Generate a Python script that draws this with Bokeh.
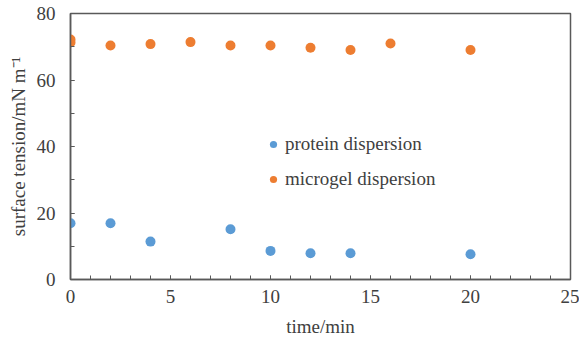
from bokeh.plotting import figure
from bokeh.models import Range1d, FixedTicker, Legend, LegendItem
from bokeh.embed import file_html
from bokeh.resources import INLINE

protein_time = [0, 2, 4, 8, 10, 12, 14, 20]
protein_tension = [16.9, 16.9, 11.4, 15.1, 8.6, 7.9, 7.9, 7.6]
microgel_time = [0, 0, 2, 4, 6, 8, 10, 12, 14, 16, 20]
microgel_tension = [72.2, 71.3, 70.4, 70.8, 71.4, 70.4, 70.4, 69.7, 69.0, 71.0, 69.0]
x_ticks = [0, 5, 10, 15, 20, 25]
y_ticks = [0, 20, 40, 60, 80]

FONT = "Liberation Serif"
FS = "19px"

p = figure(width=579, height=343, output_backend="svg", toolbar_location=None,
           x_range=Range1d(0, 25), y_range=Range1d(0, 80),
           min_border_left=70, min_border_right=9, min_border_top=13, min_border_bottom=64)
p.background_fill_color = "white"
p.border_fill_color = "white"
p.outline_line_color = "#595959"
p.outline_line_width = 1.5
p.grid.visible = False

r1 = p.scatter(protein_time, protein_tension, size=10, color="#5B9BD5", line_color=None)
r2 = p.scatter(microgel_time, microgel_tension, size=10, color="#ED7D31", line_color=None)

p.xaxis.ticker = FixedTicker(ticks=x_ticks, minor_ticks=list(range(0, 26)))
p.yaxis.ticker = FixedTicker(ticks=y_ticks, minor_ticks=list(range(0, 81, 10)))
for ax in (p.xaxis[0], p.yaxis[0]):
    ax.axis_line_color = "#595959"
    ax.axis_line_width = 1.5
    ax.major_tick_line_color = "#595959"
    ax.minor_tick_line_color = "#595959"
    ax.major_tick_in = 4
    ax.major_tick_out = 0
    ax.minor_tick_in = 4
    ax.minor_tick_out = 0
    ax.major_label_text_font = FONT
    ax.major_label_text_font_size = FS
    ax.major_label_text_color = "#404040"
    ax.axis_label_text_font = FONT
    ax.axis_label_text_font_size = FS
    ax.axis_label_text_font_style = "normal"
    ax.axis_label_text_color = "#404040"
p.xaxis.axis_label = "time/min"
p.yaxis.axis_label = "surface tension/mN m\u207b\u00b9"
p.xaxis.major_label_standoff = 10
p.yaxis.major_label_standoff = 15
p.xaxis.axis_label_standoff = 10
p.yaxis.axis_label_standoff = 5

legend = Legend(items=[LegendItem(label="protein dispersion", renderers=[r1]),
                       LegendItem(label="microgel dispersion", renderers=[r2])],
                location=(194, 89), background_fill_alpha=0, border_line_color=None,
                label_text_font=FONT, label_text_font_size=FS, label_text_color="#404040",
                glyph_width=18, glyph_height=20, label_height=20, spacing=13,
                label_standoff=3, padding=0, margin=0)
p.add_layout(legend, "center")

open("out.html", "w").write(file_html(p, INLINE))
